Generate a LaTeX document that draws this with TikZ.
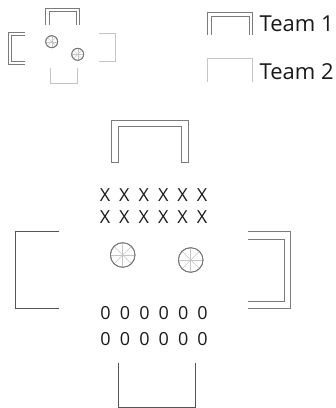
\documentclass[tikz,border=0pt]{standalone}
\usepackage{fontspec}
\setmainfont{Open Sans}
\definecolor{teamone}{HTML}{7A7A7A}
\definecolor{teamtwolight}{HTML}{C4C4C4}
\definecolor{teamtwodark}{HTML}{555555}
\definecolor{inkc}{HTML}{1A1A1A}
\begin{document}
\begin{tikzpicture}[x=1pt,y=-1pt,
  goalone/.style={draw=teamone,line width=0.9pt},
  goaltwo/.style={draw=teamtwolight,line width=0.9pt},
  goaldark/.style={draw=teamtwodark,line width=0.9pt},
  ballrim/.style={draw=teamtwodark!80,line width=0.8pt,fill=white},
  spoke/.style={draw=teamtwolight,line width=0.6pt},
  player/.style={inner sep=0pt,text=inkc,font=\fontsize{18}{20}\selectfont},
  legendtext/.style={inner sep=0pt,anchor=base west,text=inkc,font=\fontsize{22}{24}\selectfont}]
\useasboundingbox (0,0) rectangle (336,408);

% ---- small overview field ----
% Team 1 goals (double line)
\draw[goalone] (45.7,25) -- (45.7,8.3) -- (79,8.3) -- (79,25);
\draw[goalone] (49,25) -- (49,11.7) -- (76,11.7) -- (76,25);
\draw[goalone] (25,32) -- (8.3,32) -- (8.3,64) -- (25,64);
\draw[goalone] (25,35) -- (11.7,35) -- (11.7,61.7) -- (25,61.7);
% Team 2 goals (single line)
\draw[goaltwo] (99,33) -- (115,33) -- (115,61.7) -- (99,61.7);
\draw[goaltwo] (50,68) -- (50,83) -- (77.7,83) -- (77.7,68);
% balls
\foreach \cx/\cy/\r in {51.7/41.7/6, 77.7/54.3/6}{
  \draw[ballrim] (\cx,\cy) circle[radius=\r];
  \foreach \a in {0,45,...,315} \draw[spoke,line width=0.4pt] (\cx,\cy) -- ++(\a:\r-0.6);
  \draw[ballrim,fill=none] (\cx,\cy) circle[radius=\r];
}

% ---- legend ----
\draw[goalone] (207.7,35) -- (207.7,12.7) -- (252.3,12.7) -- (252.3,35);
\draw[goalone] (211,35) -- (211,16) -- (249,16) -- (249,35);
\node[legendtext] (lone) at (259.5,31.7) {Team 1};
\draw[goaltwo] (207.7,81.7) -- (207.7,58.3) -- (252.3,58.3) -- (252.3,81.7);
\node[legendtext] (ltwo) at (259.5,79.5) {Team 2};

% ---- main field ----
% Team 1 goals
\draw[goalone] (111.5,162.3) -- (111.5,120) -- (188.3,120) -- (188.3,162.3)
  -- (181,162.3) -- (181,126.7) -- (118.3,126.7) -- (118.3,162.3) -- cycle;
\draw[goalone] (248.3,231.7) -- (290.7,231.7) -- (290.7,308.3) -- (248.3,308.3);
\draw[goalone] (248.3,239) -- (284,239) -- (284,301.7) -- (248.3,301.7);
% Team 2 goals
\draw[goaldark] (59.3,231) -- (15,231) -- (15,308.3) -- (59.3,308.3);
\draw[goaldark] (118.3,363.3) -- (118.3,407.2) -- (195,407.2) -- (195,363.3);

% players
\foreach \x [count=\i] in {105,124.4,143.8,163.2,182.6,202}{
  \node[player] (xa\i) at (\x,195) {X};
  \node[player] (xb\i) at (\x,217.5) {X};
  \node[player] (oa\i) at (\x+0.6,312.8) {0};
  \node[player] (ob\i) at (\x+0.6,339.5) {0};
}

% balls
\foreach \cx/\cy/\r in {122.7/255/12.3, 190.7/260/12.3}{
  \draw[ballrim] (\cx,\cy) circle[radius=\r];
  \foreach \a in {0,45,...,315} \draw[spoke] (\cx,\cy) -- ++(\a:\r-0.7);
  \draw[ballrim,fill=none] (\cx,\cy) circle[radius=\r];
}
\end{tikzpicture}
\end{document}
